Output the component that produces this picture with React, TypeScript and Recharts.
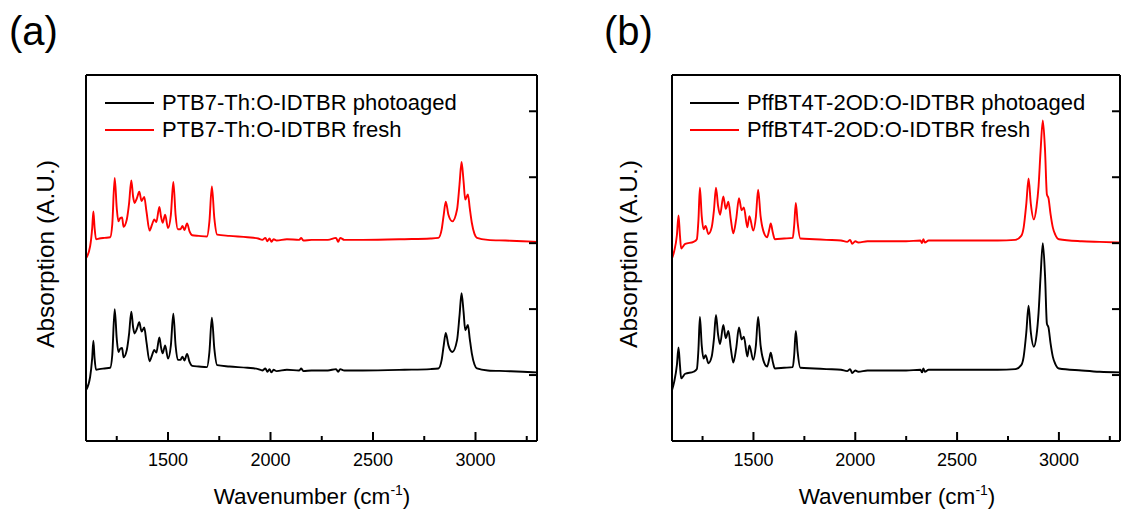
import React from 'react';
import { LineChart, Line, XAxis, YAxis, Legend } from 'recharts';

const FONT = '"Liberation Sans", Arial, Helvetica, sans-serif';

// ---------- Panel (a): PTB7-Th:O-IDTBR ----------
const wavenumbersA = [
  1100, 1120, 1130, 1136, 1142, 1149, 1165, 1190, 1218, 1228, 1240, 1250, 1258, 1267, 1276, 1283, 1299, 1310,
  1321, 1330, 1337, 1348, 1360, 1371, 1384, 1395, 1410, 1422, 1433, 1443, 1458, 1466, 1474, 1486, 1500, 1514,
  1526, 1537, 1548, 1560, 1571, 1580, 1593, 1605, 1618, 1650, 1690, 1702, 1714, 1726, 1740, 1800, 1888, 1940,
  1960, 1975, 1985, 1995, 2005, 2015, 2030, 2080, 2140, 2150, 2160, 2200, 2280, 2320, 2330, 2340, 2360, 2450,
  2654, 2780, 2819, 2835, 2845, 2855, 2868, 2887, 2910, 2922, 2932, 2942, 2950, 2963, 2972, 2982, 2995, 3007,
  3060, 3146, 3230, 3300,
];
const photoagedA = [
  0.77, 0.97, 1.25, 1.52, 1.25, 1.08, 1.09, 1.10, 1.11, 1.30, 2.00, 1.55, 1.35, 1.40, 1.41, 1.27, 1.38, 1.62,
  1.96, 1.72, 1.63, 1.70, 1.80, 1.66, 1.72, 1.50, 1.21, 1.30, 1.38, 1.34, 1.57, 1.42, 1.33, 1.45, 1.25, 1.45,
  1.93, 1.45, 1.23, 1.23, 1.28, 1.22, 1.32, 1.20, 1.14, 1.13, 1.12, 1.35, 1.87, 1.40, 1.15, 1.13, 1.11, 1.09,
  1.07, 1.10, 1.05, 1.09, 1.04, 1.08, 1.06, 1.08, 1.07, 1.10, 1.06, 1.07, 1.07, 1.09, 1.05, 1.09, 1.07, 1.07,
  1.08, 1.09, 1.10, 1.23, 1.45, 1.64, 1.45, 1.35, 1.53, 1.90, 2.24, 1.95, 1.68, 1.76, 1.55, 1.33, 1.16, 1.10,
  1.07, 1.06, 1.05, 1.04,
];
const freshA = [
  2.77, 2.95, 3.22, 3.48, 3.23, 3.06, 3.07, 3.08, 3.09, 3.28, 3.99, 3.53, 3.33, 3.38, 3.39, 3.25, 3.36, 3.60,
  3.95, 3.70, 3.61, 3.68, 3.78, 3.64, 3.70, 3.48, 3.19, 3.28, 3.36, 3.32, 3.55, 3.40, 3.31, 3.43, 3.23, 3.43,
  3.93, 3.43, 3.21, 3.21, 3.26, 3.20, 3.30, 3.18, 3.12, 3.11, 3.10, 3.33, 3.86, 3.38, 3.13, 3.11, 3.09, 3.07,
  3.05, 3.08, 3.03, 3.07, 3.02, 3.06, 3.04, 3.06, 3.05, 3.08, 3.04, 3.05, 3.05, 3.08, 3.02, 3.08, 3.05, 3.05,
  3.06, 3.07, 3.08, 3.21, 3.43, 3.63, 3.43, 3.33, 3.51, 3.89, 4.23, 3.93, 3.66, 3.74, 3.53, 3.31, 3.14, 3.08,
  3.05, 3.04, 3.03, 3.02,
];
const namesA = ['PTB7-Th:O-IDTBR photoaged', 'PTB7-Th:O-IDTBR fresh'];

// ---------- Panel (b): PffBT4T-2OD:O-IDTBR ----------
const wavenumbersB = [
  1100, 1111, 1124, 1132, 1139, 1145, 1165, 1206, 1222, 1230, 1237, 1246, 1255, 1265, 1279, 1295, 1306, 1316,
  1326, 1336, 1352, 1364, 1377, 1389, 1401, 1415, 1429, 1442, 1453, 1470, 1480, 1499, 1512, 1523, 1535, 1548,
  1567, 1578, 1585, 1595, 1605, 1650, 1693, 1700, 1708, 1717, 1730, 1800, 1858, 1930, 1960, 1975, 1985, 2000,
  2015, 2060, 2167, 2250, 2320, 2328, 2334, 2342, 2360, 2500, 2700, 2786, 2815, 2827, 2840, 2851, 2862, 2877,
  2890, 2900, 2910, 2921, 2932, 2941, 2949, 2959, 2970, 2982, 3000, 3112, 3200, 3300,
];
const photoagedB = [
  0.77, 0.90, 1.15, 1.42, 1.15, 0.95, 1.02, 1.05, 1.09, 1.40, 1.88, 1.45, 1.25, 1.30, 1.18, 1.28, 1.55, 1.91,
  1.62, 1.47, 1.76, 1.56, 1.67, 1.40, 1.19, 1.40, 1.72, 1.54, 1.58, 1.28, 1.45, 1.23, 1.45, 1.88, 1.45, 1.23,
  1.13, 1.25, 1.34, 1.20, 1.10, 1.11, 1.12, 1.30, 1.67, 1.35, 1.11, 1.10, 1.09, 1.08, 1.06, 1.09, 1.03, 1.07,
  1.05, 1.07, 1.07, 1.07, 1.08, 1.04, 1.10, 1.05, 1.08, 1.08, 1.08, 1.09, 1.15, 1.28, 1.65, 2.05, 1.65, 1.43,
  1.60, 1.94, 2.50, 3.00, 2.50, 1.78, 1.72, 1.48, 1.28, 1.17, 1.10, 1.07, 1.05, 1.04,
];
const freshB = [
  2.77, 2.88, 3.12, 3.42, 3.12, 2.92, 2.99, 3.02, 3.06, 3.36, 3.84, 3.41, 3.21, 3.26, 3.14, 3.24, 3.50, 3.84,
  3.57, 3.43, 3.71, 3.52, 3.63, 3.36, 3.15, 3.36, 3.68, 3.50, 3.54, 3.24, 3.41, 3.19, 3.40, 3.81, 3.41, 3.19,
  3.09, 3.21, 3.30, 3.16, 3.06, 3.07, 3.08, 3.27, 3.61, 3.31, 3.07, 3.06, 3.05, 3.04, 3.02, 3.05, 2.99, 3.03,
  3.01, 3.03, 3.03, 3.03, 3.04, 3.00, 3.06, 3.01, 3.04, 3.04, 3.04, 3.05, 3.11, 3.24, 3.60, 3.98, 3.60, 3.36,
  3.55, 3.86, 4.40, 4.86, 4.40, 3.74, 3.68, 3.44, 3.24, 3.13, 3.06, 3.03, 3.02, 3.01,
];
const namesB = ['PffBT4T-2OD:O-IDTBR photoaged', 'PffBT4T-2OD:O-IDTBR fresh'];

// ---------- Axes ----------
const xDomain: [number, number] = [1100, 3300];
const xTicks = [1250, 1500, 1750, 2000, 2250, 2500, 2750, 3000, 3250];
const xLabels = [1500, 2000, 2500, 3000];
const yDomain: [number, number] = [0, 5.55];
const yTicks = [1, 2, 3, 4, 5];
const panelLabels = ['(a)', '(b)'];
const xTitle = 'Wavenumber (cm';
const xTitleSup = '-1';
const yTitle = 'Absorption (A.U.)';

const buildRows = (w: number[], aged: number[], fresh: number[]) =>
  w.map((x, i) => ({ w: x, aged: aged[i], fresh: fresh[i] }));

const BottomTick = (props: any) => {
  const { x, y, payload } = props;
  const major = xLabels.includes(payload.value);
  return (
    <g>
      <line x1={x} x2={x} y1={y} y2={y - (major ? 9 : 5)} stroke="#000" strokeWidth={2} />
      {major && (
        <text x={x} y={y + 25} textAnchor="middle" fontSize={18} fontFamily={FONT} fill="#000">
          {payload.value}
        </text>
      )}
    </g>
  );
};

const RightTick = (props: any) => {
  const { x, y } = props;
  return <line x1={x} x2={x - 8} y1={y} y2={y} stroke="#000" strokeWidth={2} />;
};

const makeLegend = (names: string[]) => (props: any) => {
  const payload = [...(props.payload || [])].sort(
    (a: any, b: any) => names.indexOf(a.value) - names.indexOf(b.value)
  );
  return (
    <div style={{ fontFamily: FONT, fontSize: 22, color: '#000' }}>
      {payload.map((e: any, i: number) => (
        <div key={i} style={{ display: 'flex', alignItems: 'center', height: 27, whiteSpace: 'nowrap' }}>
          <svg width={49} height={4} style={{ display: 'block' }}>
            <line x1={0} y1={2} x2={49} y2={2} stroke={e.color} strokeWidth={2} />
          </svg>
          <span style={{ marginLeft: 8, lineHeight: '27px' }}>{e.value}</span>
        </div>
      ))}
    </div>
  );
};

const axisLineStyle = { stroke: '#000', strokeWidth: 2 };

function Panel(props: {
  rows: any[];
  names: string[];
  width: number;
  margin: { top: number; right: number; bottom: number; left: number };
  legendLeft: number;
}) {
  const { rows, names, width, margin, legendLeft } = props;
  return (
    <LineChart width={width} height={510} data={rows} margin={margin}>
      <XAxis
        xAxisId="b"
        dataKey="w"
        type="number"
        domain={xDomain}
        ticks={xTicks}
        interval={0}
        height={1}
        tickSize={0}
        tickMargin={0}
        tickLine={false}
        tick={<BottomTick />}
        axisLine={axisLineStyle}
        allowDataOverflow
      />
      <XAxis
        xAxisId="t"
        orientation="top"
        dataKey="w"
        type="number"
        domain={xDomain}
        height={1}
        tick={false}
        tickLine={false}
        axisLine={axisLineStyle}
        allowDataOverflow
      />
      <YAxis
        yAxisId="r"
        orientation="right"
        type="number"
        domain={yDomain}
        ticks={yTicks}
        interval={0}
        width={1}
        tickSize={0}
        tickMargin={0}
        tickLine={false}
        tick={<RightTick />}
        axisLine={axisLineStyle}
        allowDataOverflow
      />
      <YAxis
        yAxisId="l"
        orientation="left"
        type="number"
        domain={yDomain}
        width={1}
        tick={false}
        tickLine={false}
        axisLine={axisLineStyle}
        allowDataOverflow
      />
      <Legend
        layout="vertical"
        align="center"
        verticalAlign="middle"
        content={makeLegend(names)}
        wrapperStyle={{ position: 'absolute', left: legendLeft, top: 89, width: 'auto' }}
      />
      <Line
        xAxisId="b"
        yAxisId="r"
        dataKey="aged"
        name={names[0]}
        type="monotone"
        stroke="#000000"
        strokeWidth={1.9}
        dot={false}
        activeDot={false}
        isAnimationActive={false}
      />
      <Line
        xAxisId="b"
        yAxisId="r"
        dataKey="fresh"
        name={names[1]}
        type="monotone"
        stroke="#ff0000"
        strokeWidth={1.9}
        dot={false}
        activeDot={false}
        isAnimationActive={false}
      />
    </LineChart>
  );
}

export default function App() {
  const rowsA = buildRows(wavenumbersA, photoagedA, freshA);
  const rowsB = buildRows(wavenumbersB, photoagedB, freshB);
  return (
    <div style={{ position: 'absolute', left: 0, top: 0, width: 1121, height: 510, background: '#fff' }}>
      <div style={{ position: 'absolute', left: 0, top: 0 }}>
        <Panel rows={rowsA} names={namesA} width={570} margin={{ top: 74, right: 32, bottom: 68, left: 85 }} legendLeft={105} />
      </div>
      <div style={{ position: 'absolute', left: 586, top: 0 }}>
        <Panel rows={rowsB} names={namesB} width={535} margin={{ top: 74, right: 0, bottom: 68, left: 85 }} legendLeft={104} />
      </div>
      <svg width={1121} height={510} style={{ position: 'absolute', left: 0, top: 0, pointerEvents: 'none' }}>
        <g fontFamily={FONT} fill="#000">
          <text x={9} y={45} fontSize={40}>{panelLabels[0]}</text>
          <text x={604} y={45} fontSize={40}>{panelLabels[1]}</text>
          <text x={312} y={504} fontSize={22.5} textAnchor="middle">
            {xTitle}
            <tspan fontSize={14} dy={-9}>{xTitleSup}</tspan>
            <tspan dy={9}>)</tspan>
          </text>
          <text x={897} y={504} fontSize={22.5} textAnchor="middle">
            {xTitle}
            <tspan fontSize={14} dy={-9}>{xTitleSup}</tspan>
            <tspan dy={9}>)</tspan>
          </text>
          <text x={45} y={254} fontSize={24.5} textAnchor="middle" dominantBaseline="central" transform="rotate(-90 45 254)">
            {yTitle}
          </text>
          <text x={628} y={254} fontSize={24.5} textAnchor="middle" dominantBaseline="central" transform="rotate(-90 628 254)">
            {yTitle}
          </text>
        </g>
      </svg>
    </div>
  );
}
